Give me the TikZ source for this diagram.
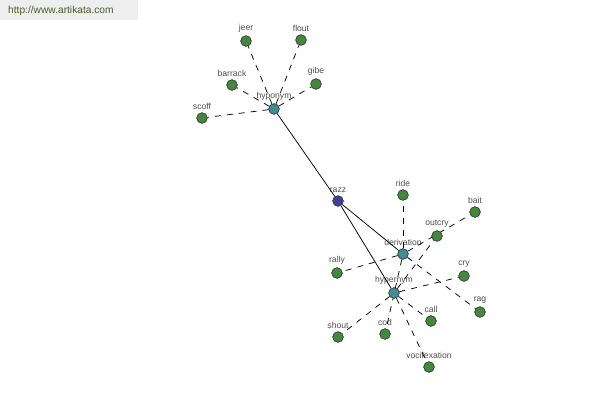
\documentclass[tikz,border=0pt]{standalone}
\usepackage{fontspec}
\setmainfont{Liberation Sans}
\definecolor{lblgray}{HTML}{505050}
\definecolor{gnode}{HTML}{418A3C}
\definecolor{tnode}{HTML}{3F8E97}
\definecolor{bnode}{HTML}{3A40A0}
\definecolor{hdrbg}{HTML}{EEEEEE}
\definecolor{hdrtxt}{HTML}{4B5B2B}
\begin{document}
\begin{tikzpicture}[x=1pt,y=-1pt,
  vnode/.style={circle,draw=black!75,line width=0.6pt,minimum size=10.5pt,inner sep=0pt,
    label={[text=lblgray,font=\fontsize{8.6}{9}\selectfont,inner sep=0pt,yshift=2.5pt]above:#1}},
  gn/.style={vnode=#1,fill=gnode},
  tn/.style={vnode=#1,fill=tnode},
  bn/.style={vnode=#1,fill=bnode},
  solidedge/.style={line width=0.75pt},
  dashedge/.style={line width=0.75pt,dash pattern=on 6pt off 6pt}]
\useasboundingbox (0,0) rectangle (600,400);
\fill[white] (0,0) rectangle (600,400);
\node[fill=hdrbg,minimum width=138pt,minimum height=20pt,inner sep=0pt,anchor=north west] (hdr) at (0,0) {};
\node[text=hdrtxt,font=\fontsize{10.2}{11}\selectfont,anchor=west,inner sep=0pt] (url) at (8,10.5) {http://www.artikata.com};
% nodes
\node[gn=jeer] (jeer) at (246,41) {};
\node[gn=flout] (flout) at (301,40) {};
\node[gn=barrack] (barrack) at (232,85) {};
\node[gn=gibe] (gibe) at (316,84) {};
\node[gn=scoff] (scoff) at (202,118) {};
\node[tn=hyponym] (hypo) at (274,109) {};
\node[bn=razz] (razz) at (338,201) {};
\node[gn=ride] (ride) at (403,195) {};
\node[gn=bait] (bait) at (475,212) {};
\node[gn=outcry] (outcry) at (437,236) {};
\node[tn=derivation] (deriv) at (403,254) {};
\node[gn=rally] (rally) at (337,273) {};
\node[gn=cry] (cry) at (464,276) {};
\node[tn=hypernym] (hyper) at (394,293) {};
\node[gn=rag] (rag) at (480,312) {};
\node[gn=shout] (shout) at (338,337) {};
\node[gn=cod] (cod) at (385,334) {};
\node[gn=call] (call) at (431,321) {};
\node[gn=vocifexation] (vocif) at (429,367) {};
% edges
\draw[solidedge] (hypo) -- (razz);
\draw[solidedge] (razz) -- (deriv);
\draw[solidedge] (razz) -- (hyper);
\foreach \n in {jeer,flout,barrack,gibe,scoff} \draw[dashedge] (hypo) -- (\n);
\foreach \n in {ride,bait,rally,rag,cod} \draw[dashedge] (deriv) -- (\n);
\foreach \n in {outcry,cry,shout,call,vocif} \draw[dashedge] (hyper) -- (\n);
% redraw node discs on top of the connectors
\foreach \n/\c in {jeer/gnode,flout/gnode,barrack/gnode,gibe/gnode,scoff/gnode,hypo/tnode,razz/bnode,ride/gnode,bait/gnode,outcry/gnode,deriv/tnode,rally/gnode,cry/gnode,hyper/tnode,rag/gnode,shout/gnode,cod/gnode,call/gnode,vocif/gnode}
  \filldraw[fill=\c,draw=black!75,line width=0.6pt] (\n.center) circle (5.25pt);
\end{tikzpicture}
\end{document}
